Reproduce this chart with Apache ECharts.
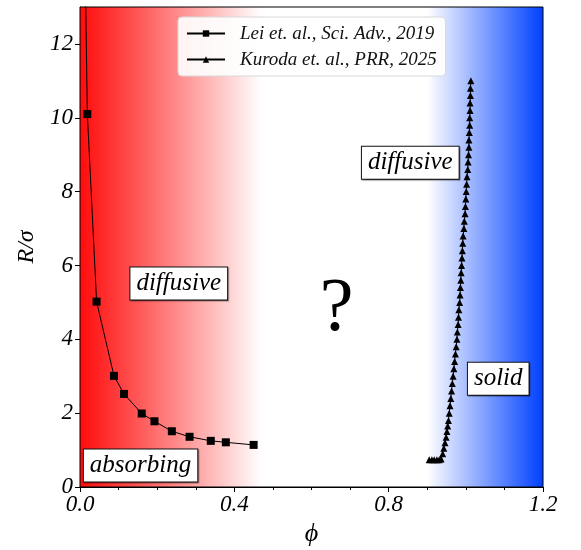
<!DOCTYPE html>
<html>
<head>
<meta charset="utf-8">
<script src="https://cdn.jsdelivr.net/npm/echarts@6/dist/echarts.min.js"></script>
<style>
  html, body { margin: 0; padding: 0; background: #fff; }
  #chart { width: 581px; height: 550px; }
</style>
</head>
<body>
<div id="chart"></div>
<script>
// Lei et al. 2019 boundary (squares)
const leiPhi = [0.005, 0.019, 0.043, 0.088, 0.114, 0.160, 0.193, 0.238, 0.284, 0.339, 0.378, 0.450];
const leiR = [20.0, 10.1, 5.02, 3.01, 2.52, 1.99, 1.78, 1.51, 1.36, 1.25, 1.21, 1.14];

// Kuroda et al. 2025 boundary (triangles)
const kurodaPhi = [
  0.905, 0.912, 0.918, 0.925, 0.931, 0.936, 0.940, 0.943, 0.946, 0.949,
  0.951, 0.953, 0.955, 0.957, 0.959, 0.961, 0.963, 0.965, 0.967, 0.969,
  0.971, 0.973, 0.975, 0.977, 0.978, 0.980, 0.981, 0.982, 0.984, 0.985,
  0.986, 0.987, 0.988, 0.989, 0.990, 0.991, 0.992, 0.993, 0.995, 0.996,
  0.998, 0.999, 1.000, 1.001, 1.002, 1.003, 1.005, 1.006, 1.007, 1.008,
  1.008, 1.009, 1.010, 1.010, 1.011, 1.011, 1.012, 1.012, 1.013
];
const kurodaR = [
  0.74, 0.74, 0.74, 0.74, 0.74, 0.76, 0.90, 1.05, 1.20, 1.35,
  1.50, 1.65, 1.80, 2.00, 2.20, 2.40, 2.60, 2.80, 3.00, 3.20,
  3.40, 3.60, 3.80, 4.00, 4.20, 4.40, 4.60, 4.80, 5.00, 5.20,
  5.40, 5.60, 5.80, 6.00, 6.20, 6.40, 6.60, 6.80, 7.00, 7.20,
  7.40, 7.60, 7.80, 8.00, 8.20, 8.40, 8.60, 8.80, 9.00, 9.20,
  9.40, 9.60, 9.80, 10.00, 10.20, 10.40, 10.60, 10.80, 11.00
];

const seriesNames = ["Lei et. al., Sci. Adv., 2019", "Kuroda et. al., PRR, 2025"];

// region labels: [phi, R, text]
const regionLabels = [
  [0.256, 5.51, "diffusive"],
  [0.157, 0.58, "absorbing"],
  [0.856, 8.78, "diffusive"],
  [1.084, 2.93, "solid"]
];
const questionMark = [[0.665, 4.8, "?"]];

// shaded zones along phi
const redZone = [0.0, 0.47];
const blueZone = [0.9, 1.2];

const yTicks = [0, 2, 4, 6, 8, 10, 12];

const serif = "'Liberation Serif', 'DejaVu Serif', serif";

const chart = echarts.init(document.getElementById("chart"), null, { renderer: "canvas" });

const zip = (xs, ys) => xs.map((x, i) => [x, ys[i]]);

const option = {
  backgroundColor: "#fff",
  animation: false,
  grid: {
    left: 80,
    right: 38,
    top: 7,
    bottom: 63,
    outerBoundsMode: "none",
    containLabel: false,
    show: true,
    borderColor: "#000",
    borderWidth: 1,
    backgroundColor: "transparent",
    z: 10,
  },
  legend: {
    data: seriesNames,
    orient: "vertical",
    left: 178,
    top: 17,
    padding: [7, 9, 7, 8],
    itemGap: 7,
    itemWidth: 38,
    itemHeight: 8,
    backgroundColor: "rgba(255,255,255,0.9)",
    borderColor: "#d8d8d8",
    borderWidth: 1,
    borderRadius: 4,
    textStyle: {
      fontFamily: serif,
      fontStyle: "italic",
      fontSize: 19,
      color: "#111",
      padding: [0, 0, 0, 10],
    },
  },
  xAxis: {
    type: "value",
    min: 0,
    max: 1.2,
    interval: 0.4,
    name: "ϕ",
    nameLocation: "middle",
    nameGap: 31,
    nameTextStyle: { fontFamily: serif, fontStyle: "italic", fontSize: 26, color: "#000" },
    axisLine: { lineStyle: { color: "#000", width: 1 } },
    axisTick: { show: true, inside: false, length: 5, lineStyle: { color: "#000" } },
    minorTick: { show: true, splitNumber: 4, length: 3, lineStyle: { color: "#000" } },
    splitLine: { show: false },
    axisLabel: {
      fontFamily: serif,
      fontStyle: "italic",
      fontSize: 23,
      color: "#000",
      margin: 6,
      formatter: (v) => v.toFixed(1),
    },
  },
  yAxis: {
    type: "value",
    min: 0,
    max: 13,
    interval: 2,
    name: "R/σ",
    nameLocation: "middle",
    nameGap: 41,
    nameTextStyle: { fontFamily: serif, fontStyle: "italic", fontSize: 24, color: "#000" },
    axisLine: { show: true, lineStyle: { color: "#000", width: 1 } },
    axisTick: { show: true, inside: false, length: 5, lineStyle: { color: "#000" }, customValues: yTicks },
    splitLine: { show: false },
    axisLabel: {
      fontFamily: serif,
      fontStyle: "italic",
      fontSize: 23,
      color: "#000",
      margin: 7,
      customValues: yTicks,
    },
  },
  series: [
    {
      name: "zones",
      type: "line",
      data: [],
      z: 0,
      silent: true,
      markArea: {
        silent: true,
        data: [
          [
            {
              xAxis: redZone[0],
              yAxis: 0,
              itemStyle: {
                opacity: 1,
                color: {
                  type: "linear", x: 0, y: 0, x2: 1, y2: 0,
                  colorStops: [
                    { offset: 0, color: "rgba(255,12,12,1)" },
                    { offset: 1, color: "rgba(255,0,0,0)" },
                  ],
                },
              },
            },
            { xAxis: redZone[1], yAxis: 13 },
          ],
          [
            {
              xAxis: blueZone[0],
              yAxis: 0,
              itemStyle: {
                opacity: 1,
                color: {
                  type: "linear", x: 0, y: 0, x2: 1, y2: 0,
                  colorStops: [
                    { offset: 0, color: "rgba(0,64,255,0)" },
                    { offset: 1, color: "rgba(0,64,255,1)" },
                  ],
                },
              },
            },
            { xAxis: blueZone[1], yAxis: 13 },
          ],
        ],
      },
    },
    {
      name: seriesNames[0],
      type: "line",
      data: zip(leiPhi, leiR),
      symbol: "rect",
      symbolSize: 8,
      color: "#000",
      lineStyle: { color: "#000", width: 1 },
      itemStyle: { color: "#000" },
      clip: true,
      z: 3,
    },
    {
      name: seriesNames[1],
      type: "line",
      data: zip(kurodaPhi, kurodaR),
      symbol: "triangle",
      symbolSize: 7,
      color: "#000",
      lineStyle: { color: "#000", width: 1 },
      itemStyle: { color: "#000" },
      z: 3,
    },
    {
      name: "labels",
      type: "scatter",
      data: regionLabels,
      symbol: "rect",
      symbolSize: 1,
      itemStyle: { color: "rgba(0,0,0,0)", opacity: 1 },
      silent: true,
      z: 4,
      label: {
        show: true,
        position: "inside",
        formatter: (p) => p.data[2],
        fontFamily: serif,
        fontStyle: "italic",
        fontSize: 25,
        color: "#000",
        backgroundColor: "#fff",
        borderColor: "#111",
        borderWidth: 1,
        padding: [3, 6, 4, 6],
        shadowColor: "rgba(0,0,0,0.35)",
        shadowOffsetX: 1,
        shadowOffsetY: 1,
        shadowBlur: 1,
      },
    },
    {
      name: "question",
      type: "scatter",
      data: questionMark,
      symbol: "rect",
      symbolSize: 1,
      itemStyle: { color: "rgba(0,0,0,0)", opacity: 1 },
      silent: true,
      z: 4,
      label: {
        show: true,
        position: "inside",
        formatter: (p) => p.data[2],
        fontFamily: serif,
        fontSize: 76,
        color: "#000",
      },
    },
  ],
};

chart.setOption(option);
</script>
</body>
</html>
